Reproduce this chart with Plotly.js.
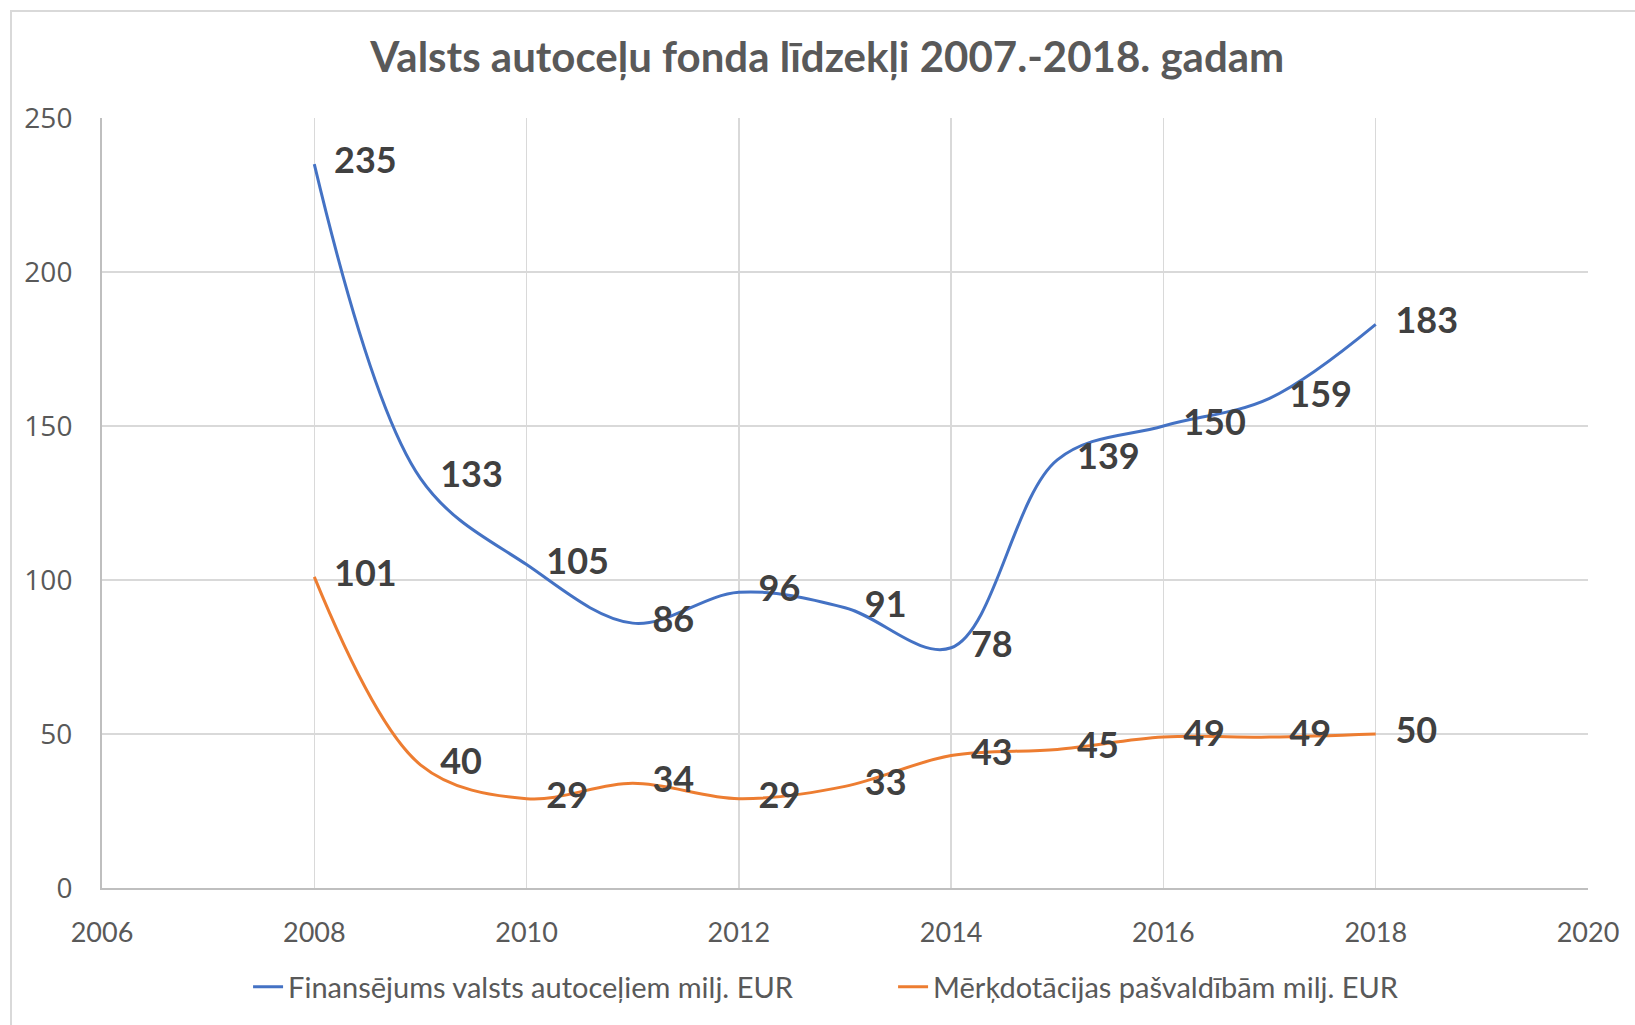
<!DOCTYPE html>
<html>
<head>
<meta charset="utf-8">
<script src="https://cdn.plot.ly/plotly-3.0.1.min.js"></script>
<style>
  html, body { margin: 0; padding: 0; background: #fff; }
  #chart { width: 1635px; height: 1025px; position: relative; }
  #frame { position: absolute; left: 10px; top: 10px; right: -10px; bottom: -10px;
           border-left: 2px solid #d9d9d9; border-top: 2px solid #d9d9d9; pointer-events: none; z-index: 5; }
</style>
</head>
<body>
<div id="wrap" style="position:relative;width:1635px;height:1025px;overflow:hidden;">
  <div id="chart"></div>
  <div id="frame"></div>
</div>
<script>
const years = [2008, 2009, 2010, 2011, 2012, 2013, 2014, 2015, 2016, 2017, 2018];
const valstsAutoceli = [235, 133, 105, 86, 96, 91, 78, 139, 150, 159, 183];
const merkdotacijas = [101, 40, 29, 34, 29, 33, 43, 45, 49, 49, 50];
const seriesNames = ['Finansējums valsts autoceļiem milj. EUR', 'Mērķdotācijas pašvaldībām milj. EUR'];
const chartTitle = 'Valsts autoceļu fonda līdzekļi 2007.-2018. gadam';
const xTicks = [2006, 2008, 2010, 2012, 2014, 2016, 2018, 2020];
const yTicks = [0, 50, 100, 150, 200, 250];

const labelFont = { family: 'Lato, sans-serif', size: 36, color: '#404040', weight: 'bold' };

function mkTrace(y, name, color) {
  return {
    x: years, y: y, name: name, type: 'scatter', mode: 'lines+markers+text',
    line: { color: color, width: 3, shape: 'spline', smoothing: 1 },
    marker: { size: 30, color: 'rgba(0,0,0,0)', line: { width: 0 } },
    text: y.map(String), textposition: 'middle right', textfont: labelFont,
    cliponaxis: false, hoverinfo: 'x+y'
  };
}

const data = [
  mkTrace(valstsAutoceli, seriesNames[0], '#4472C4'),
  mkTrace(merkdotacijas, seriesNames[1], '#ED7D31')
];

const layout = {
  width: 1635, height: 1025,
  paper_bgcolor: '#ffffff', plot_bgcolor: '#ffffff',
  margin: { l: 102, r: 47, t: 118, b: 137 },
  title: {
    text: '<b>' + chartTitle + '</b>',
    font: { family: 'Lato, sans-serif', size: 42, color: '#595959' },
    x: 0.506, xref: 'container', xanchor: 'center',
    y: 1 - 57 / 1025, yref: 'container', yanchor: 'middle'
  },
  xaxis: {
    range: [2006, 2020], tickvals: xTicks, ticktext: xTicks.map(String),
    showgrid: true, gridcolor: '#d9d9d9', gridwidth: 1.5,
    showline: true, linecolor: '#bfbfbf', linewidth: 2,
    zeroline: false, ticks: '', ticklabelstandoff: 20,
    tickfont: { family: 'Lato, sans-serif', size: 27, color: '#595959' }
  },
  yaxis: {
    range: [0, 250], tickvals: yTicks, ticktext: yTicks.map(String),
    showgrid: true, gridcolor: '#d9d9d9', gridwidth: 1.5,
    showline: true, linecolor: '#bfbfbf', linewidth: 2,
    zeroline: false, ticks: '', ticklabelstandoff: 22,
    tickfont: { family: 'Open Sans, sans-serif', size: 28, color: '#595959' }
  },
  showlegend: true,
  legend: {
    orientation: 'h', x: 0.0983, xanchor: 'left', y: -0.1286, yanchor: 'middle',
    entrywidth: 600, entrywidthmode: 'pixels',
    font: { family: 'Lato, sans-serif', size: 29, color: '#595959' },
    itemclick: false, itemdoubleclick: false, traceorder: 'normal'
  }
};

Plotly.newPlot('chart', data, layout, { displayModeBar: false, staticPlot: true });
</script>
</body>
</html>
